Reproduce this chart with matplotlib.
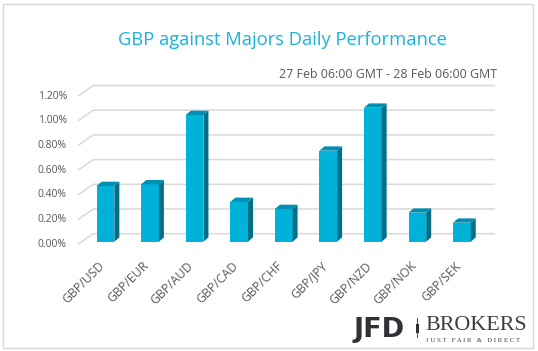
import matplotlib.pyplot as plt
from matplotlib.patches import Polygon, Rectangle

plt.rcParams['font.family'] = ['Open Sans', 'DejaVu Sans']

# daily change of GBP against each major, in percent
pairs = ['GBP/USD', 'GBP/EUR', 'GBP/AUD', 'GBP/CAD', 'GBP/CHF',
         'GBP/JPY', 'GBP/NZD', 'GBP/NOK', 'GBP/SEK']
change = [0.451, 0.465, 1.026, 0.322, 0.265, 0.737, 1.085, 0.235, 0.154]
y_ticks = [0.0, 0.2, 0.4, 0.6, 0.8, 1.0, 1.2]

title = 'GBP against Majors Daily Performance'
period = '27 Feb 06:00 GMT - 28 Feb 06:00 GMT'

front_col = '#00B1DA'
side_col = '#006F88'
top_col = '#008FB0'
grid_col = '#D9D9D9'
text_col = '#595959'

W, H = 538, 351
fig = plt.figure(figsize=(W / 100, H / 100), dpi=100)

# plotting box in pixels, and pixel scale of the data
ax_l, ax_t, ax_r, ax_b = 40, 80, 515, 275
step = 44.55      # px between categories
unit = 123.5      # px for 1 %
x0_px, y0_px = 105.5, 241.7   # first bar centre / bar baseline

ax = fig.add_axes([ax_l / W, 1 - ax_b / H, (ax_r - ax_l) / W, (ax_b - ax_t) / H])
ax.set_xlim((ax_l - x0_px) / step, (ax_r - x0_px) / step)
ax.set_ylim((y0_px - ax_b) / unit, (y0_px - ax_t) / unit)
ax.axis('off')

def px_x(p):
    return p / step

def px_y(p):
    return p / unit

# 3d wall: floor depth goes back-right and up
wall_front_x = px_x(78 - x0_px)
wall_back_x = px_x(93.3 - x0_px)
wall_end_x = px_x(495 - x0_px)
front_dy = -px_y(2.6)
back_dy = px_y(8.0)

for t in y_ticks:
    ax.plot([wall_front_x, wall_back_x, wall_end_x],
            [t + front_dy, t + back_dy, t + back_dy],
            color=grid_col, lw=1.1, zorder=1, solid_capstyle='butt')
    ax.text(wall_front_x - px_x(11), t + front_dy, f'{t:.2f}%',
            ha='right', va='center', fontsize=7.5, color=text_col)

# bars: front face + side + top
bw = 17.7 / step
dx, dy = px_x(5.0), px_y(4.3)
xs = list(range(len(pairs)))
ax.bar(xs, change, width=bw, color=front_col, zorder=3)
for x, v in zip(xs, change):
    r = x + bw / 2
    l = x - bw / 2
    ax.add_patch(Polygon([(r, 0), (r + dx, dy), (r + dx, v + dy), (r, v)],
                         closed=True, facecolor=side_col, edgecolor='none', zorder=3))
    ax.add_patch(Polygon([(l, v), (r, v), (r + dx, v + dy), (l + dx, v + dy)],
                         closed=True, facecolor=top_col, edgecolor='none', zorder=3))

# category labels
for x, name in zip(xs, pairs):
    ax.text(x - px_x(3), -px_y(264 - y0_px), name, rotation=45,
            rotation_mode='anchor', ha='right', va='center',
            fontsize=8.8, color=text_col)

# titles
fig.text(282 / W, 1 - 40 / H, title, ha='center', va='center',
         fontsize=13.2, color='#1AB3DE')
fig.text(497 / W, 1 - 75 / H, period, ha='right', va='center',
         fontsize=8.9, color=text_col)

# logo
fig.text(354 / W, 1 - 337 / H, 'JFD', ha='left', va='baseline',
         fontsize=19.5, fontweight='bold', color='#2E3236', family='DejaVu Sans')
fig.add_artist(plt.Line2D([416.5 / W, 416.5 / W], [1 - 318 / H, 1 - 337 / H],
                          color='#555A5E', lw=0.8))
fig.add_artist(plt.Line2D([416.5 / W, 416.5 / W], [1 - 325 / H, 1 - 331 / H],
                          color='#2E3236', lw=2.2))
fig.text(425 / W, 1 - 330 / H, 'BROKERS', ha='left', va='baseline',
         fontsize=15.8, color='#3A3F44', family='Liberation Serif')
fig.text(426 / W, 1 - 342.3 / H, 'J U S T   F A I R   &   D I R E C T', ha='left',
         va='baseline', fontsize=4.9, color='#3A3F44', family='Liberation Serif')

# outer frame
fig.add_artist(Rectangle((3 / W, 3 / H), 530 / W, 344 / H, fill=False,
                         edgecolor=grid_col, lw=1.0, transform=fig.transFigure))

fig.savefig('out.png', dpi=100, facecolor='white')
